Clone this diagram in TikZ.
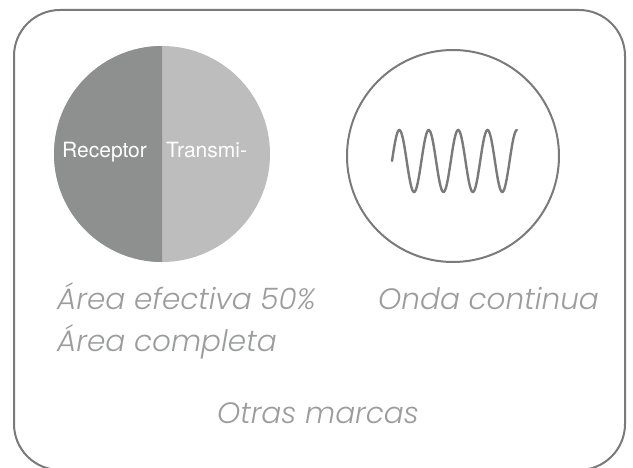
\documentclass[tikz,border=0pt]{standalone}
\usepackage{fontspec}
\usepackage{tikz}
\newfontfamily\labelfont{TeX Gyre Heros}
\newfontfamily\capfont{Poppins Light Italic}
\definecolor{framegray}{HTML}{7A7A7A}
\definecolor{darkhalf}{HTML}{8E908F}
\definecolor{lighthalf}{HTML}{BCBDBC}
\definecolor{capgray}{HTML}{9B9C9C}

\begin{document}
\begin{tikzpicture}[x=1pt,y=-1pt,
    half/.style={font=\labelfont\fontsize{21}{24}\selectfont, text=white, inner sep=0pt, anchor=base west},
    caption/.style={font=\capfont\fontsize{29.5}{34}\selectfont, text=capgray, inner sep=0pt, anchor=base west},
    outline/.style={draw=framegray, line width=2pt}]
        \useasboundingbox (0,0) rectangle (633,468);
        %\fill[white] (0,0) rectangle (633,468);
        \draw[outline, rounded corners=46pt] (14,10) rectangle (625,470);
        % split disc
        \coordinate (disc) at (162,154);
        \fill[lighthalf] (disc) circle[radius=108];
        \fill[darkhalf] (162,46) arc[start angle=-90, end angle=-270, radius=108] -- cycle;
        \node[half] (rx) at (62,157.7) {Receptor};
        \node[half] (tx) at (166,157.7) {Transmi-};
        % wave disc
        \node[outline, circle, minimum size=212pt, inner sep=0pt] (wavedisc) at (453,156) {};
        \draw[framegray, line width=2.4pt, line cap=round]
          plot[domain=0:4.25, samples=150] ({392+29.4*\x},{161-31*sin(360*\x)});
        \node[caption] (area50) at (57,310) {Área efectiva 50\%};
        \node[caption] (onda) at (378,310) {Onda continua};
        \node[caption] (areafull) at (57,352) {Área completa};
        \node[caption, anchor=base] (otras) at (318,423) {Otras marcas};
      \end{tikzpicture}
\end{document}
